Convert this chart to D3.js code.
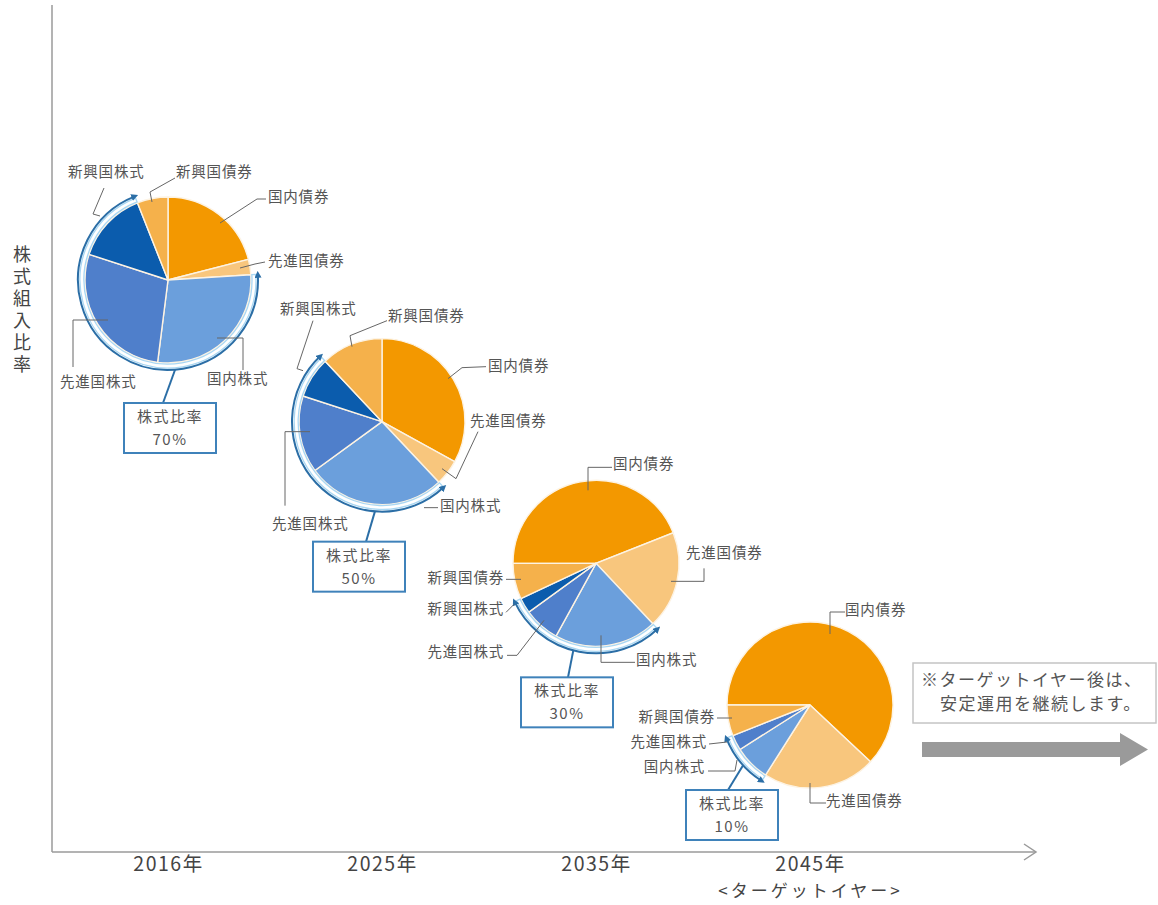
<!DOCTYPE html>
<html><head><meta charset="utf-8">
<script src="https://cdn.jsdelivr.net/npm/d3@7"></script>
<style>
body{margin:0;background:#fff}
svg{display:block}
text{font-family:"Noto Sans CJK JP","Noto Sans",sans-serif}
</style>
</head><body>
<svg id="c" width="1158" height="905"></svg>
<script>
// ---------- DATA ----------
const years = ["2016年", "2025年", "2035年", "2045年"];
const yearNotes = ["", "", "", "<ターゲットイヤー>"];
const assetClasses = ["国内債券", "先進国債券", "国内株式", "先進国株式", "新興国株式", "新興国債券"];
const domesticBonds   = [21, 33, 44, 62];
const developedBonds  = [3, 5, 19, 22];
const domesticEquity  = [28, 27, 20, 7];
const developedEquity = [28, 15, 7, 3];
const emergingEquity  = [14, 8, 3, 0];
const emergingBonds   = [6, 12, 7, 6];
const equityRatio     = [70, 50, 30, 10];
const equityAssets = ["国内株式", "先進国株式", "新興国株式"];
const boxTitle = "株式比率";
const yAxisTitle = "株式組入比率";
const noteLines = ["※ターゲットイヤー後は、", "安定運用を継続します。"];

const seriesByAsset = {
  "国内債券": domesticBonds, "先進国債券": developedBonds, "国内株式": domesticEquity,
  "先進国株式": developedEquity, "新興国株式": emergingEquity, "新興国債券": emergingBonds
};

// ---------- STYLE / LAYOUT ----------
const colors = {
  "国内債券": "#f39800", "先進国債券": "#f8c67d", "新興国債券": "#f5b14b",
  "国内株式": "#6b9fdc", "先進国株式": "#4f7fcb", "新興国株式": "#0b5cad"
};
const R = 83;
const layout = [
  { start: 0,
    box: {x: -44, y: 123}, conn: {a: 175.5, ex: -5},
    labels: {
      "国内債券":  {tx: 100, ty: -82, pts: [[98,-81],[89,-81],[52,-57]]},
      "先進国債券": {tx: 100, ty: -18, pts: [[97,-18],[87,-16],[72,-12]]},
      "国内株式":  {tx: 39, ty: 100, pts: [[49,58],[75,58],[75,90]]},
      "先進国株式": {tx: -108, ty: 103, pts: [[-60,40],[-95,40],[-95,87]]},
      "新興国株式": {tx: -100, ty: -107, pts: [[-64,-92],[-75,-66],[-68,-64]]},
      "新興国債券": {tx: 8, ty: -107, pts: [[7,-102],[-18,-88],[-16,-78]]}
    }},
  { start: 0,
    box: {x: -69, y: 120}, conn: {a: 184.5, ex: -16},
    labels: {
      "国内債券":  {tx: 106, ty: -55, pts: [[104,-55],[80,-54],[66,-43]]},
      "先進国債券": {tx: 88, ty: 0, pts: [[96,10],[74,57],[60,47]]},
      "国内株式":  {tx: 58, ty: 85, pts: [[56,86],[42,86]]},
      "先進国株式": {tx: -110, ty: 103, pts: [[-72,10],[-97,10],[-97,84]]},
      "新興国株式": {tx: -102, ty: -112, pts: [[-69,-101],[-85,-53],[-79,-51]]},
      "新興国債券": {tx: 6, ty: -105, pts: [[5,-101],[-32,-86],[-30,-75]]}
    }},
  { start: -90,
    box: {x: -75, y: 114}, conn: {a: 194.6, ex: -28},
    labels: {
      "国内債券":  {tx: 17, ty: -98, pts: [[16,-96],[-8,-96],[-8,-73]]},
      "先進国債券": {tx: 90, ty: -9, pts: [[108,5],[108,18],[75,18]]},
      "国内株式":  {tx: 40, ty: 98, pts: [[39,99],[5,99],[5,72]]},
      "先進国株式": {tx: -92, ty: 90, anchor: "end", pts: [[-89,92],[-79,92],[-52,57]]},
      "新興国株式": {tx: -92, ty: 47, anchor: "end", pts: [[-90,49],[-82,41]]},
      "新興国債券": {tx: -92, ty: 16, anchor: "end", pts: [[-90,16],[-75,16]]}
    }},
  { start: -90,
    box: {x: -124, y: 85}, conn: {a: 228, ex: -82},
    labels: {
      "国内債券":  {tx: 35, ty: -94, pts: [[35,-93],[20,-93],[20,-71]]},
      "先進国債券": {tx: 16, ty: 97, pts: [[16,98],[0,98],[0,78]]},
      "国内株式":  {tx: -105, ty: 63, anchor: "end", pts: [[-102,66],[-75,66],[-73,55]]},
      "先進国株式": {tx: -103, ty: 38, anchor: "end", pts: [[-101,39],[-83,37]]},
      "新興国債券": {tx: -95, ty: 13, anchor: "end", pts: [[-93,13],[-78,13]]}
    }}
];

// ---------- DRAW ----------
const svg = d3.select("#c");
const x = d3.scalePoint().domain(years).range([168, 810]);
const y = d3.scaleLinear().domain([10, 70]).range([705, 280]);

const defs = svg.append("defs");
defs.append("marker").attr("id", "arr")
  .attr("viewBox", "0 0 10 10").attr("refX", 5).attr("refY", 5)
  .attr("markerWidth", 7).attr("markerHeight", 7).attr("markerUnits", "userSpaceOnUse")
  .attr("orient", "auto-start-reverse")
  .append("path").attr("d", "M0,0 L10,5 L0,10 z").attr("fill", "#2b6ea6");

// axes
const axisColor = "#9a9a9a";
svg.append("line").attr("x1", 52).attr("x2", 52).attr("y1", 5).attr("y2", 852)
  .attr("stroke", axisColor).attr("stroke-width", 1.5);
svg.append("line").attr("x1", 52).attr("x2", 1035).attr("y1", 852).attr("y2", 852)
  .attr("stroke", axisColor).attr("stroke-width", 1.5);
svg.append("path").attr("d", "M1024,844 L1036,852 L1024,860")
  .attr("fill", "none").attr("stroke", axisColor).attr("stroke-width", 1.5);

const xAxis = svg.append("g").attr("transform", "translate(0,852)")
  .call(d3.axisBottom(x).tickSize(0).tickPadding(7));
xAxis.select(".domain").remove();
xAxis.selectAll(".tick text")
  .attr("y", 14).attr("dy", null).attr("dominant-baseline", "middle")
  .attr("font-size", 19.5).attr("letter-spacing", 1.5).attr("fill", "#444")
  .attr("font-family", '"Noto Sans CJK JP", sans-serif');
xAxis.selectAll(".tick").each(function(d, i) {
  if (!yearNotes[i]) return;
  d3.select(this).append("text").attr("x", 0).attr("y", 40.5)
    .attr("text-anchor", "middle").attr("dominant-baseline", "middle")
    .attr("font-size", 17).attr("letter-spacing", 3).attr("fill", "#444")
    .text(yearNotes[i]);
});

// y title (vertical)
svg.append("text").attr("x", 22).attr("y", 245)
  .style("writing-mode", "vertical-rl")
  .attr("font-size", 18).attr("letter-spacing", 4).attr("fill", "#444").text(yAxisTitle);

const deg = Math.PI / 180;
const pol = (cx, cy, r, a) => [cx + r * Math.sin(a), cy - r * Math.cos(a)];

years.forEach((yr, i) => {
  const cx = x(yr), cy = y(equityRatio[i]);
  const L = layout[i];
  const data = assetClasses.map(a => ({asset: a, value: seriesByAsset[a][i]}));
  const pie = d3.pie().sort(null).value(d => d.value)
    .startAngle(L.start * deg).endAngle(L.start * deg + 2 * Math.PI);
  const arcs = pie(data);
  const g = svg.append("g").attr("transform", `translate(${cx},${cy})`);
  const arcGen = d3.arc().innerRadius(0).outerRadius(R);
  g.selectAll("path.slice").data(arcs.filter(d => d.data.value > 0)).join("path")
    .attr("class", "slice").attr("d", arcGen)
    .attr("fill", d => colors[d.data.asset])
    .attr("stroke", "#fdf3e3").attr("stroke-width", 1.4);

  // equity arc
  const eq = arcs.filter(d => equityAssets.includes(d.data.asset) && d.data.value > 0);
  const a0 = d3.min(eq, d => d.startAngle), a1 = d3.max(eq, d => d.endAngle);
  g.append("path").attr("d", d3.arc().innerRadius(R + 1).outerRadius(R + 5)
      .startAngle(a0).endAngle(a1)())
    .attr("fill", "#ffffff").attr("stroke", "#a9d7f3").attr("stroke-width", 1.3);
  const Rl = R + 7;
  const p = d3.path();
  const s = pol(0, 0, Rl, a0);
  p.moveTo(s[0], s[1]);
  p.arc(0, 0, Rl, a0 - Math.PI / 2, a1 - Math.PI / 2, false);
  g.append("path").attr("d", p.toString()).attr("fill", "none")
    .attr("stroke", "#2b6ea6").attr("stroke-width", 2)
    .attr("marker-start", "url(#arr)").attr("marker-end", "url(#arr)");

  // connector + box
  const cs = pol(0, 0, Rl, L.conn.a * deg);
  g.append("line").attr("x1", cs[0]).attr("y1", cs[1])
    .attr("x2", L.conn.ex).attr("y2", L.box.y)
    .attr("stroke", "#2b6ea6").attr("stroke-width", 2);
  g.append("rect").attr("x", L.box.x).attr("y", L.box.y).attr("width", 92).attr("height", 50)
    .attr("fill", "#fff").attr("stroke", "#3f82ba").attr("stroke-width", 2);
  [boxTitle, equityRatio[i] + "%"].forEach((txt, k) => {
    g.append("text").attr("x", L.box.x + 46).attr("y", L.box.y + 15 + k * 23)
      .attr("text-anchor", "middle").attr("dominant-baseline", "middle")
      .attr("font-size", 15).attr("letter-spacing", 1.5).attr("fill", "#555").text(txt);
  });

  // labels & leaders
  Object.entries(L.labels).forEach(([asset, lb]) => {
    g.append("path").attr("d", d3.line()(lb.pts)).attr("fill", "none")
      .attr("stroke", "#666").attr("stroke-width", 1);
    g.append("text").attr("x", lb.tx).attr("y", lb.ty)
      .attr("text-anchor", lb.anchor || "start").attr("dominant-baseline", "middle")
      .attr("font-size", 14.5).attr("letter-spacing", 0.8).attr("fill", "#555").text(asset);
  });
});

// note box and arrow
svg.append("rect").attr("x", 913).attr("y", 663).attr("width", 243).attr("height", 60)
  .attr("fill", "#fff").attr("stroke", "#c4c4c4").attr("stroke-width", 1.5);
svg.append("text").attr("x", 921).attr("y", 681).attr("dominant-baseline", "middle")
  .attr("font-size", 17).attr("letter-spacing", 1.5).attr("fill", "#555").text(noteLines[0]);
svg.append("text").attr("x", 940).attr("y", 705).attr("dominant-baseline", "middle")
  .attr("font-size", 17).attr("letter-spacing", 1.5).attr("fill", "#555").text(noteLines[1]);
svg.append("path")
  .attr("d", "M922,742 L1120,742 L1120,733 L1148,749.5 L1120,766 L1120,757 L922,757 Z")
  .attr("fill", "#9a9a9a");
</script>
</body></html>
